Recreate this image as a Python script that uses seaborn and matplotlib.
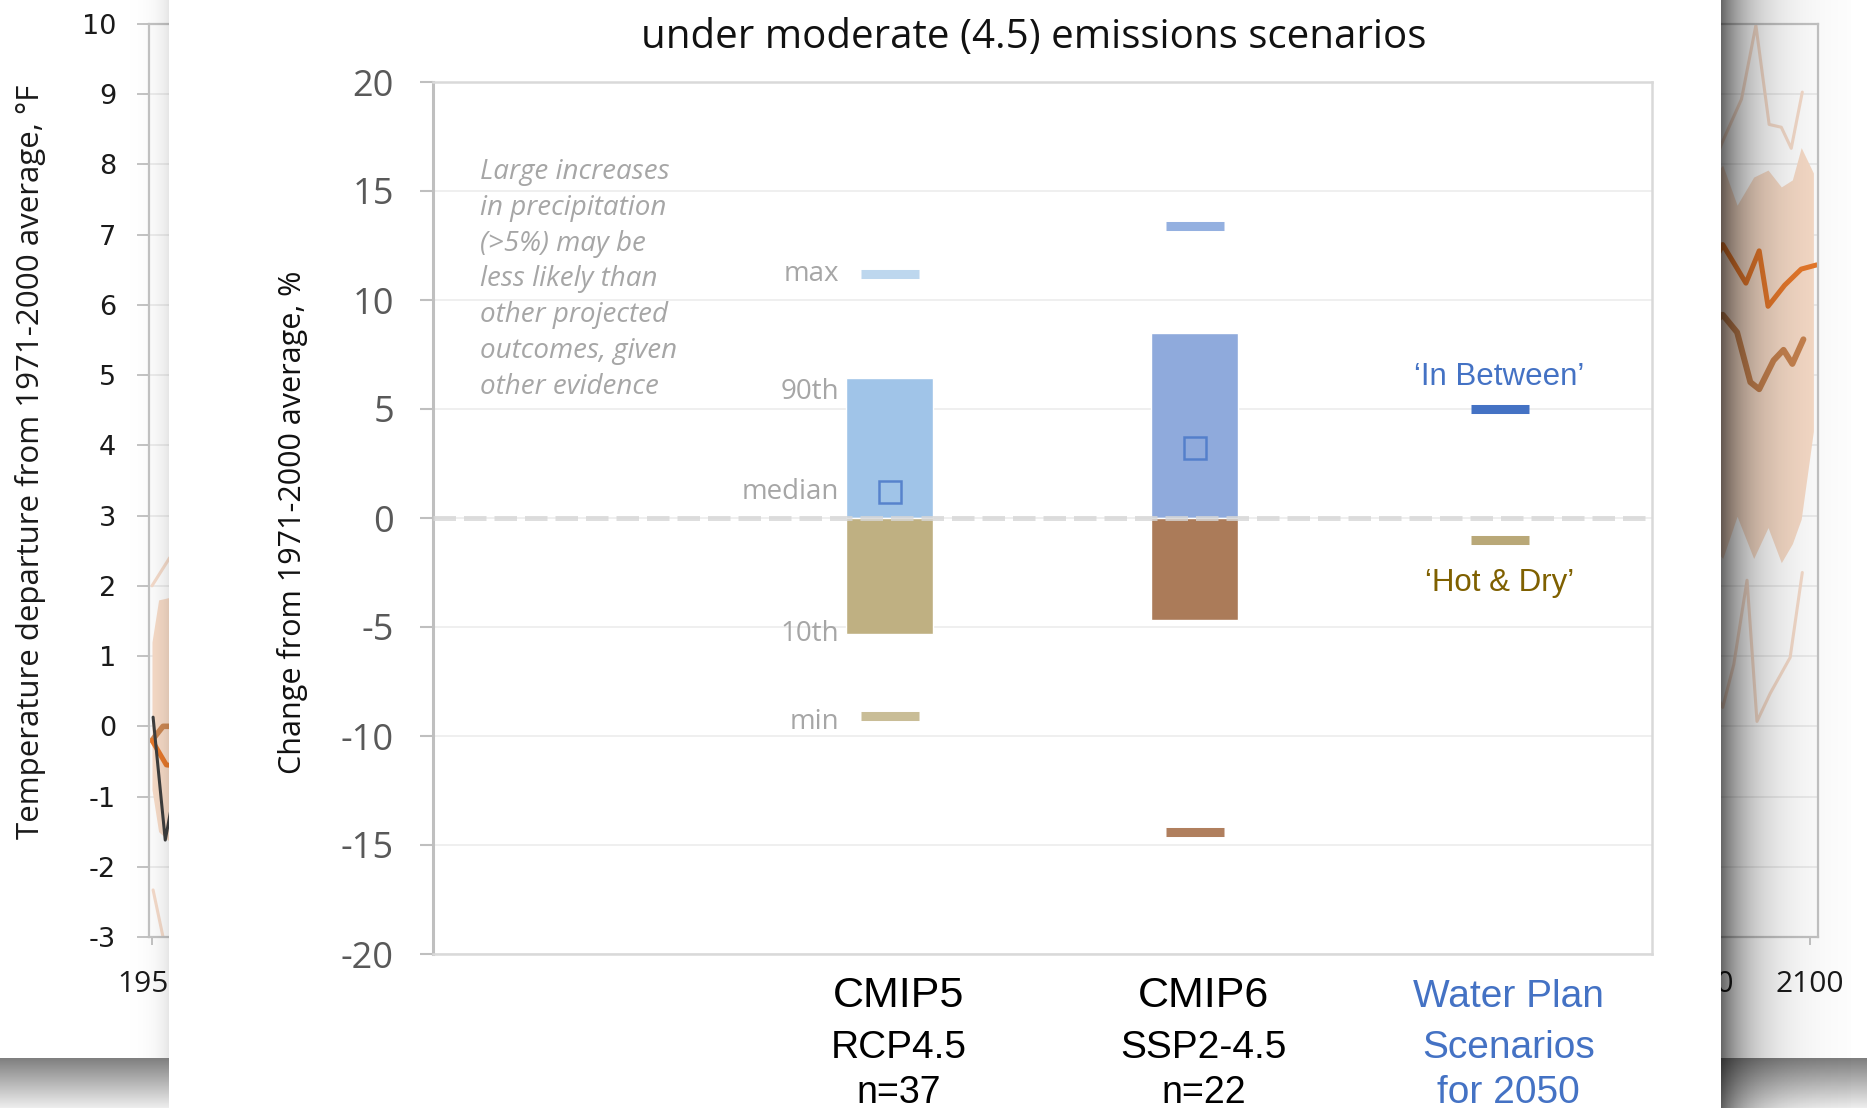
import numpy as np
import pandas as pd
import matplotlib
matplotlib.use("Agg")
import matplotlib.pyplot as plt
import matplotlib.transforms as mtransforms
from matplotlib.patches import Rectangle
import seaborn as sns

sns.set_theme(style="white")
plt.rcParams["font.family"] = ["Open Sans", "DejaVu Sans"]

# ---------------- main chart: % change in precipitation ----------------
slots = ["", "CMIP5", "CMIP6", "Water Plan"]
sets = ["CMIP5", "CMIP6"]
p90 = [6.4, 8.5]
p10 = [-5.3, -4.7]
medians = [1.2, 3.2]
maxes = [11.2, 13.4]
mins = [-9.1, -14.4]
in_between = 5.0
hot_dry = -1.0

line1 = ["CMIP5", "CMIP6", "Water Plan"]
line2 = ["RCP4.5", "SSP2-4.5", "Scenarios"]
line3 = ["n=37", "n=22", "for 2050"]
note = ("Large increases\nin precipitation\n(>5%) may be\nless likely than\n"
        "other projected\noutcomes, given\nother evidence")

# ---------------- background chart: temperature departure, °F ----------------
# left edge (mostly hidden behind the panel)
dark_yr = [1950.1, 1951.2, 1952.4]
dark_val = [0.13, -1.62, -0.6]
orng_l_yr = [1950.0, 1951.3, 1952.0]
orng_l_val = [-0.2, -0.55, -0.56]
brwn_l_yr = [1950.0, 1951.0, 1952.0]
brwn_l_val = [-0.2, 0.0, 0.0]
band_l_yr = [1950.0, 1950.6, 1952.0]
band_l_top = [1.2, 1.8, 1.85]
band_l_bot = [-0.9, -1.5, -1.7]
faint_hi_l_yr = [1950.0, 1951.6]
faint_hi_l_val = [2.0, 2.4]
faint_lo_l_yr = [1950.1, 1951.0]
faint_lo_l_val = [-2.33, -3.0]

# right edge
orng_r_yr = [2091.0, 2092.1, 2094.2, 2095.4, 2096.2, 2097.7, 2099.2, 2100.6]
orng_r_val = [6.5, 6.86, 6.31, 6.77, 5.98, 6.28, 6.51, 6.57]
brwn_r_yr = [2091.0, 2092.1, 2093.4, 2094.6, 2095.4, 2096.7, 2097.6, 2098.4, 2099.4]
brwn_r_val = [5.7, 5.86, 5.61, 4.90, 4.80, 5.21, 5.36, 5.16, 5.51]
band_r_yr = [2091.0, 2092.1, 2093.4, 2094.9, 2096.2, 2097.4, 2098.4, 2099.2, 2100.3, 2100.3]
band_r_top = [7.8, 7.99, 7.42, 7.82, 7.92, 7.68, 7.78, 8.24, 7.88, 7.88]
band_r_bot = [2.6, 2.39, 2.99, 2.39, 2.83, 2.33, 2.6, 2.95, 4.2, 4.9]
faint_hi_r_yr = [2091.0, 2092.1, 2093.8, 2095.1, 2096.3, 2097.4, 2098.3, 2099.3]
faint_hi_r_val = [7.9, 8.33, 8.93, 9.98, 8.57, 8.53, 8.23, 9.03]
faint_lo_r_yr = [2091.0, 2092.1, 2093.1, 2094.3, 2095.2, 2096.4, 2098.2, 2099.3]
faint_lo_r_val = [0.6, 0.27, 0.88, 2.08, 0.07, 0.47, 0.98, 2.19]

W, H = 1867, 1108
fig = plt.figure(figsize=(W / 100, H / 100), dpi=100)


def fig_rect(x0, y0, x1, y1):
    return [x0 / W, 1 - y1 / H, (x1 - x0) / W, (y1 - y0) / H]


# ---- background chart ----
bg = fig.add_axes(fig_rect(149, 24, 1818, 937), zorder=0)
bg.fill_between(band_l_yr, band_l_bot, band_l_top, color="#f8dcc8", lw=0)
bg.fill_between(band_r_yr, band_r_bot, band_r_top, color="#f8dcc8", lw=0)
for yr, val in [(faint_hi_l_yr, faint_hi_l_val), (faint_lo_l_yr, faint_lo_l_val),
                (faint_hi_r_yr, faint_hi_r_val), (faint_lo_r_yr, faint_lo_r_val)]:
    bg.plot(yr, val, color="#f6dccb", lw=2.2)
bg.plot(brwn_l_yr, brwn_l_val, color="#cf8a55", lw=4)
bg.plot(brwn_r_yr, brwn_r_val, color="#c98450", lw=4.3)
bg.plot(orng_l_yr, orng_l_val, color="#e8792b", lw=3.6)
bg.plot(orng_r_yr, orng_r_val, color="#e8792b", lw=3.6)
bg.plot(dark_yr, dark_val, color="#3f3f3f", lw=2.2)
bg.set_xlim(1949.73, 2100.72)
bg.set_ylim(-3, 10)
yt = list(range(-3, 11))
bg.set_yticks(yt, labels=[str(v) for v in yt], fontfamily="DejaVu Sans")
xt = list(range(1950, 2101, 10))
bg.set_xticks(xt, labels=[str(v) for v in xt])
bg.grid(axis="y", color="#ebebeb", lw=1.2)
for s in bg.spines.values():
    s.set_color("#c4c4c4")
    s.set_linewidth(1.6)
bg.tick_params(axis="y", left=True, length=8.6, width=1.4, color="#c4c4c4",
               pad=15, labelsize=19.5, labelcolor="#1a1a1a")
bg.tick_params(axis="x", bottom=True, length=6, width=1.4, color="#c4c4c4",
               pad=18, labelsize=21.5, labelcolor="#1a1a1a")
bg.set_ylabel("Temperature departure from 1971-2000 average, °F",
              fontsize=22.5, color="#1a1a1a", va="center")
bg.yaxis.set_label_coords(-0.071, 0.521)

# ---- panel with shadows ----
ov = fig.add_axes([0, 0, 1, 1], zorder=1)
ov.set_autoscale_on(False)
ov.set_xlim(0, W)
ov.set_ylim(H, 0)
ov.axis("off")

band = np.linspace(0.5, 0.93, 50)[:, None, None] * np.ones((1, 1, 3))
ov.imshow(band, extent=[0, 169, 1108, 1058], aspect="auto", interpolation="bilinear")
ov.imshow(band, extent=[1721, W, 1108, 1058], aspect="auto", interpolation="bilinear")

d = np.arange(0, 130)
sh = np.zeros((1, d.size, 4))
sh[0, :, 3] = 0.6 * np.exp(-d / 32.0)
ov.imshow(sh, extent=[1721, 1851, 1108, 0], aspect="auto", interpolation="bilinear")
d2 = np.arange(0, 45)
sh2 = np.zeros((1, d2.size, 4))
sh2[0, :, 3] = 0.1 * np.exp(-d2[::-1] / 12.0)
ov.imshow(sh2, extent=[124, 169, 1058, 0], aspect="auto", interpolation="bilinear")
ov.add_patch(Rectangle((169, 0), 1721 - 169, H, color="white", lw=0))

# ---- main chart ----
ax = fig.add_axes(fig_rect(432.5, 82, 1652, 954), zorder=2)
df = pd.DataFrame({"set": sets, "p90": p90, "p10": p10})
sns.barplot(data=df, x="set", y="p90", order=slots, hue="set",
            palette=dict(zip(sets, ["#a0c4e8", "#8faadc"])), width=0.285,
            saturation=1, legend=False, ax=ax)
sns.barplot(data=df, x="set", y="p10", order=slots, hue="set",
            palette=dict(zip(sets, ["#bfb082", "#ab7b59"])), width=0.285,
            saturation=1, legend=False, ax=ax)

xs = [1, 2]
ax.hlines(maxes, [x - 0.095 for x in xs], [x + 0.095 for x in xs],
          colors=["#bdd7ee", "#94b0e0"], lw=6.5, capstyle="butt", zorder=3)
ax.hlines(mins, [x - 0.095 for x in xs], [x + 0.095 for x in xs],
          colors=["#c9bd97", "#b07f5e"], lw=6.5, capstyle="butt", zorder=3)
ax.hlines([in_between, hot_dry], [2.905, 2.905], [3.095, 3.095],
          colors=["#4472c4", "#b9a878"], lw=6.5, capstyle="butt", zorder=3)
ax.plot(xs, medians, ls="none", marker="s", ms=16, mfc="none",
        mec="#4a78c8", mew=1.8, alpha=0.85, zorder=4)
ax.axhline(0, color="#d6d6d6", lw=3.6, dashes=(4.5, 1.6), alpha=0.8, zorder=5)

ax.set_xlim(-0.5, 3.5)
ax.set_ylim(-20, 20)
ax.set_xticks([])
ax.set_xlabel("")
yt2 = list(range(-20, 21, 5))
ax.set_yticks(yt2, labels=[str(v) for v in yt2])
ax.tick_params(axis="y", left=True, length=9.4, width=1.5, color="#bfbfbf",
               pad=18.4, labelsize=26, labelcolor="#595959")
ax.grid(axis="y", color="#efefef", lw=1.4)
ax.set_axisbelow(True)
for s in ax.spines.values():
    s.set_color("#d9d9d9")
    s.set_linewidth(1.8)
ax.spines["left"].set_color("#bfbfbf")
ax.spines["left"].set_linewidth(2.2)
ax.set_ylabel("Change from 1971-2000 average, %", fontsize=22,
              color="#111111", va="center")
ax.yaxis.set_label_coords(-0.1152, 0.4954)

grey = "#a6a6a6"
ax.text(-0.344, 10.95, note, fontsize=20, style="italic", color=grey,
        ha="left", va="center", linespacing=1.37)
lab_x = 0.833
ax.text(lab_x, maxes[0], "max", fontsize=20, color=grey, ha="right", va="center")
ax.text(lab_x, p90[0], "90th", fontsize=20, color=grey, ha="right", va="top")
ax.text(lab_x, medians[0], "median", fontsize=20, color=grey, ha="right", va="center")
ax.text(lab_x, p10[0], "10th", fontsize=20, color=grey, ha="right", va="center")
ax.text(lab_x, mins[0] - 0.25, "min", fontsize=20, color=grey, ha="right", va="center")
ax.text(3, 6.45, "\u2018In Between\u2019", fontsize=22.5, color="#4472c4",
        ha="center", va="center", fontfamily="Liberation Sans")
ax.text(3, -3.0, "\u2018Hot & Dry\u2019", fontsize=22.5, color="#7f6000",
        ha="center", va="center", fontfamily="Liberation Sans")

tr = mtransforms.blended_transform_factory(ax.transData, fig.transFigure)
for i, x in enumerate([1, 2, 3]):
    c = "#4472c4" if i == 2 else "black"
    ax.text(x + 0.03, 1 - 1007 / H, line1[i], transform=tr, ha="center", va="baseline",
            fontsize=31 if i < 2 else 28, color=c, fontfamily="Liberation Sans", clip_on=False)
    ax.text(x + 0.03, 1 - 1058 / H, line2[i], transform=tr, ha="center", va="baseline",
            fontsize=28, color=c, fontfamily="Liberation Sans", clip_on=False)
    ax.text(x + 0.03, 1 - 1103 / H, line3[i], transform=tr, ha="center", va="baseline",
            fontsize=27 if i < 2 else 28, color=c, fontfamily="Liberation Sans", clip_on=False)

fig.text(1034 / W, 1 - 48 / H, "under moderate (4.5) emissions scenarios",
         ha="center", va="baseline", fontsize=29, color="#111111", zorder=5)

fig.savefig("out.png", dpi=100)
